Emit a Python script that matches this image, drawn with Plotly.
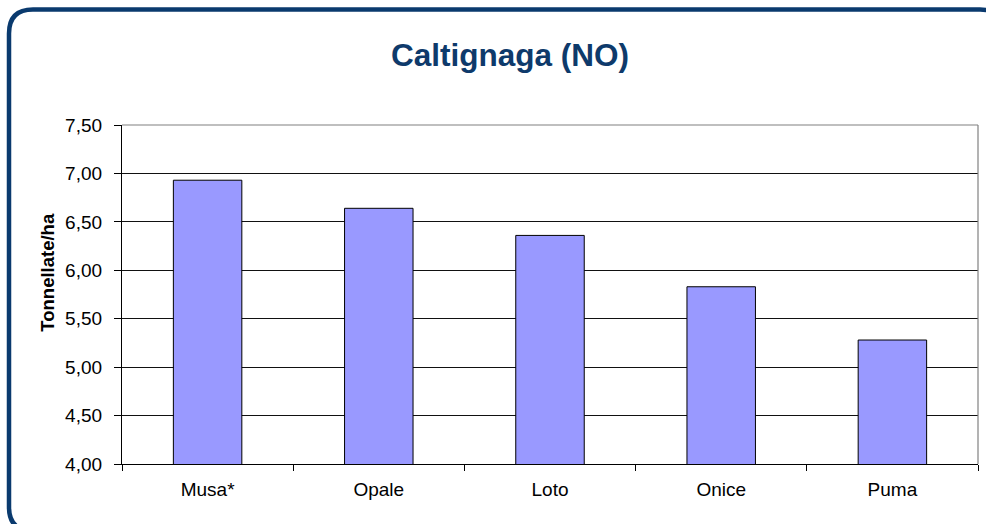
import plotly.graph_objects as go

categories = ["Musa*", "Opale", "Loto", "Onice", "Puma"]
values = [6.93, 6.64, 6.36, 5.83, 5.28]
y_ticks = [4.0, 4.5, 5.0, 5.5, 6.0, 6.5, 7.0, 7.5]

W, H = 986, 524
ML, MR, MT, MB = 122, 8, 125, 60
PW, PH = W - ML - MR, H - MT - MB


def px(x):
    return (x - ML) / PW


def py(y):
    return (H - MB - y) / PH


# rounded frame (pixel geometry -> paper coords)
L, T, R, B, RAD = 9, 9.5, 1004, 531, 24
frame = (
    f"M {px(L)},{py(T + RAD)} "
    f"Q {px(L)},{py(T)} {px(L + RAD)},{py(T)} "
    f"L {px(R - RAD)},{py(T)} "
    f"Q {px(R)},{py(T)} {px(R)},{py(T + RAD)} "
    f"L {px(R)},{py(B - RAD)} "
    f"Q {px(R)},{py(B)} {px(R - RAD)},{py(B)} "
    f"L {px(L + RAD)},{py(B)} "
    f"Q {px(L)},{py(B)} {px(L)},{py(B - RAD)} Z"
)

fig = go.Figure(
    go.Bar(
        x=categories,
        y=values,
        marker=dict(color="#9999FF", line=dict(color="#000000", width=1)),
    )
)

fig.update_layout(
    width=W,
    height=H,
    margin=dict(l=ML, r=MR, t=MT, b=MB),
    paper_bgcolor="white",
    plot_bgcolor="white",
    separators=",.",
    bargap=0.6,
    showlegend=False,
    font=dict(family="Liberation Sans, Arial, sans-serif", color="#000000"),
    title=dict(
        text="<b>Caltignaga (NO)</b>",
        font=dict(size=31.5, color="#0E3A6B", family="Liberation Sans, Arial, sans-serif"),
        xref="container",
        x=510 / W,
        xanchor="center",
        yref="container",
        y=1 - 55 / H,
        yanchor="middle",
    ),
    shapes=[
        dict(type="path", path=frame, xref="paper", yref="paper",
             line=dict(color="#0A3A6E", width=4.5), layer="above"),
        dict(type="line", xref="paper", yref="paper", x0=0, x1=1, y0=1, y1=1,
             line=dict(color="#808080", width=1.2), layer="above"),
        dict(type="line", xref="paper", yref="paper", x0=1, x1=1, y0=0, y1=1,
             line=dict(color="#808080", width=1.2), layer="above"),
    ],
    annotations=[
        dict(text="<b>Tonnellate/ha</b>", xref="paper", yref="paper",
             x=px(46.7), y=py(272), textangle=-90, showarrow=False,
             xanchor="center", yanchor="middle",
             font=dict(size=18.5, color="#000000")),
    ],
)

fig.update_xaxes(
    showline=True, linecolor="#000000", linewidth=1.2,
    ticks="outside", ticklen=6, tickcolor="#000000", tickwidth=1,
    tickson="boundaries", showgrid=False,
    tickfont=dict(size=19, color="#000000"),
    ticklabelstandoff=8,
)

fig.update_yaxes(
    range=[4.0, 7.5], tickvals=y_ticks, tickformat=".2f",
    showline=True, linecolor="#000000", linewidth=1.2,
    ticks="outside", ticklen=7, tickcolor="#000000", tickwidth=1,
    showgrid=True, gridcolor="#111111", gridwidth=1,
    zeroline=False,
    tickfont=dict(size=19, color="#000000"),
    ticklabelstandoff=8,
)

fig.write_html(
    "out.html",
    config={"displayModeBar": False},
    post_script="document.body.style.margin='0';document.body.style.overflow='hidden';",
)
